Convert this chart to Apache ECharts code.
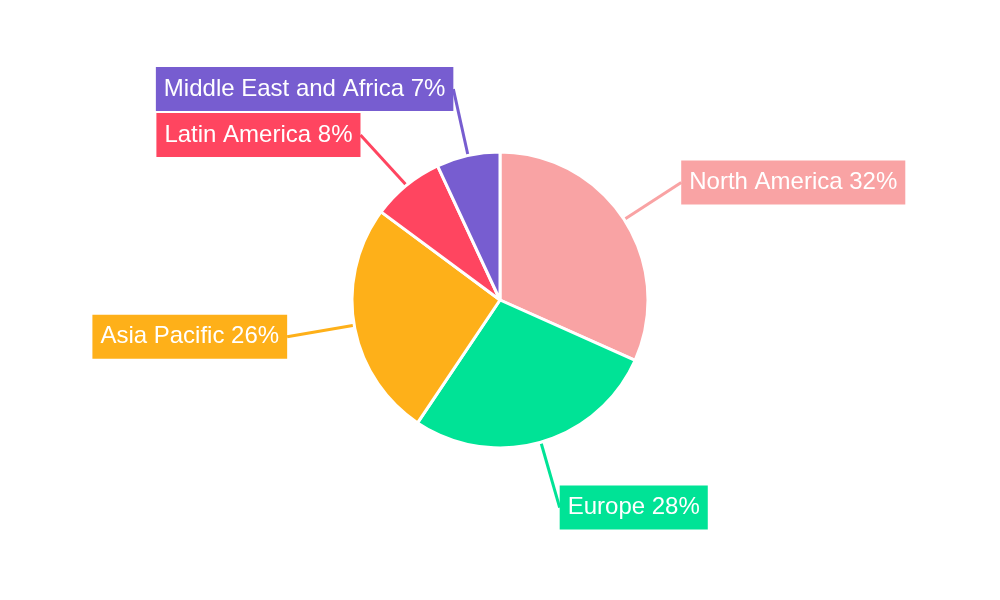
<!DOCTYPE html>
<html><head><meta charset="utf-8">
<script src="https://cdn.jsdelivr.net/npm/echarts@6/dist/echarts.min.js"></script>
<style>html,body{margin:0;padding:0;background:#fff}#c{width:1000px;height:600px}</style>
</head><body><div id="c"></div>
<script>
const categories = ["North America","Europe","Asia Pacific","Latin America","Middle East and Africa"];
const values = [32,28,26,8,7];
const colors = ["#F9A3A4","#00E396","#FEB019","#FF4560","#775DD0"];
const chart = echarts.init(document.getElementById('c'));
chart.setOption({
  animation:false,
  series:[{
    type:'pie', center:[500,300], radius:148, startAngle:90, clockwise:true,
    data: categories.map((n,i)=>({name:n,value:values[i],itemStyle:{color:colors[i]},
      label:{backgroundColor:colors[i]}, labelLine:{lineStyle:{color:colors[i]}}})),
    itemStyle:{borderColor:'#fff',borderWidth:3},
    label:{show:true,formatter:p=>p.name+' '+p.value+'%',color:'#fff',fontSize:24,
      fontFamily:'Liberation Sans',padding:[10,8,10,8],distanceToLabelLine:0},
    labelLine:{show:true,length:68,length2:0,lineStyle:{width:3}}
  }]
});
</script></body></html>
